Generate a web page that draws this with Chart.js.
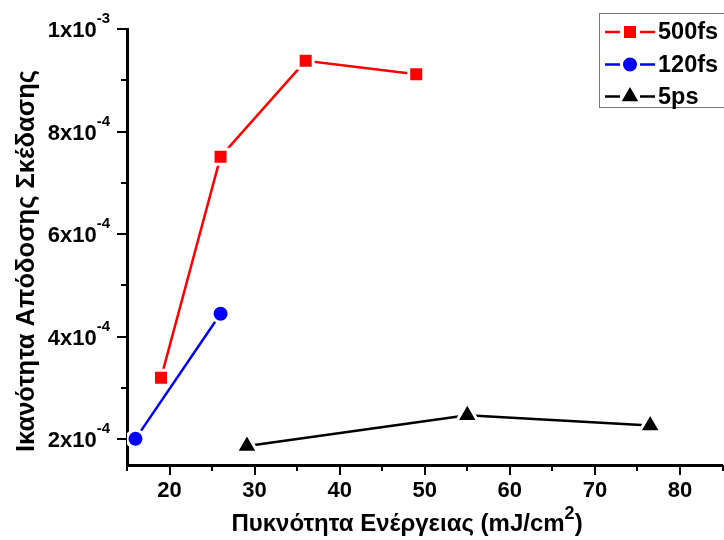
<!DOCTYPE html>
<html>
<head>
<meta charset="utf-8">
<script src="https://cdn.jsdelivr.net/npm/chart.js@4"></script>
<style>
  html, body { margin: 0; padding: 0; background: #fff; }
  #wrap { width: 724px; height: 540px; }
</style>
</head>
<body>
<div id="wrap"><canvas id="chart" width="724" height="540"></canvas></div>
<script>
// energy density (mJ/cm^2) vs scattering efficiency for three pulse widths
const fs500X = [19, 26, 36, 49];
const fs500Y = [3.2e-4, 7.51e-4, 9.38e-4, 9.12e-4];
const fs120X = [16, 26];
const fs120Y = [2.01e-4, 4.45e-4];
const ps5X = [29.1, 55, 76.5];
const ps5Y = [1.87e-4, 2.47e-4, 2.27e-4];

const seriesNames = ['500fs', '120fs', '5ps'];

// axis ticks (labels drawn with superscript exponents)
const xMajorTicks = [20, 30, 40, 50, 60, 70, 80];
const xMinorTicks = [15, 25, 35, 45, 55, 65, 75, 85];
const yMajorTicks = [2e-4, 4e-4, 6e-4, 8e-4, 1e-3];
const yMinorTicks = [3e-4, 5e-4, 7e-4, 9e-4];
const yTickBase = ['2x10', '4x10', '6x10', '8x10', '1x10'];
const yTickExp = ['-4', '-4', '-4', '-4', '-3'];

const FONT = '"Liberation Sans", Arial, sans-serif';

function pts(xs, ys) {
  return xs.map((x, i) => ({ x, y: ys[i] }));
}

// ticks, tick labels, axis titles and the boxed legend
const axisDecor = {
  id: 'axisDecor',
  afterDraw(chart) {
    const ctx = chart.ctx;
    const xs = chart.scales.x;
    const ys = chart.scales.y;
    const area = chart.chartArea;
    ctx.save();
    ctx.strokeStyle = '#000';
    ctx.fillStyle = '#000';
    ctx.lineWidth = 2;

    // x ticks
    xMajorTicks.forEach(v => {
      const px = Math.round(xs.getPixelForValue(v));
      ctx.beginPath(); ctx.moveTo(px, area.bottom); ctx.lineTo(px, area.bottom + 10); ctx.stroke();
    });
    xMinorTicks.forEach(v => {
      const px = Math.round(xs.getPixelForValue(v));
      ctx.beginPath(); ctx.moveTo(px, area.bottom); ctx.lineTo(px, area.bottom + 6); ctx.stroke();
    });
    // y ticks
    yMajorTicks.forEach(v => {
      const py = Math.round(ys.getPixelForValue(v));
      ctx.beginPath(); ctx.moveTo(area.left, py); ctx.lineTo(area.left - 10, py); ctx.stroke();
    });
    yMinorTicks.forEach(v => {
      const py = Math.round(ys.getPixelForValue(v));
      ctx.beginPath(); ctx.moveTo(area.left, py); ctx.lineTo(area.left - 6, py); ctx.stroke();
    });

    // x tick labels
    ctx.font = 'bold 22px ' + FONT;
    ctx.textAlign = 'center';
    ctx.textBaseline = 'middle';
    xMajorTicks.forEach(v => {
      ctx.fillText(String(v), xs.getPixelForValue(v), 491);
    });

    // y tick labels: mantissa x 10 with raised exponent
    const labelRight = area.left - 17;
    yMajorTicks.forEach((v, i) => {
      const py = ys.getPixelForValue(v);
      ctx.font = 'bold 15px ' + FONT;
      ctx.textAlign = 'right';
      ctx.fillText(yTickExp[i], labelRight, py - 10);
      const ew = ctx.measureText(yTickExp[i]).width;
      ctx.font = 'bold 22px ' + FONT;
      ctx.fillText(yTickBase[i], labelRight - ew, py + 2);
    });

    // y title
    ctx.save();
    ctx.translate(27, 261);
    ctx.rotate(-Math.PI / 2);
    ctx.font = 'bold 25.5px ' + FONT;
    ctx.textAlign = 'center';
    ctx.textBaseline = 'middle';
    ctx.fillText('Ικανότητα Απόδοσης Σκέδασης', 0, 0);
    ctx.restore();

    // x title with cm² superscript
    const partA = 'Πυκνότητα Ενέργειας ';
    const partB = '(mJ/cm';
    const partC = '2';
    const partD = ')';
    ctx.textAlign = 'left';
    ctx.textBaseline = 'alphabetic';
    ctx.font = 'bold 24px ' + FONT;
    const wA = ctx.measureText(partA).width;
    const wB = ctx.measureText(partB).width;
    const wD = ctx.measureText(partD).width;
    ctx.font = 'bold 18px ' + FONT;
    const wC = ctx.measureText(partC).width;
    let tx = 407 - (wA + wB + wC + wD) / 2;
    const base = 531;
    ctx.font = 'bold 24px ' + FONT;
    ctx.fillText(partA, tx, base); tx += wA;
    ctx.fillText(partB, tx, base); tx += wB;
    ctx.font = 'bold 18px ' + FONT;
    ctx.fillText(partC, tx, base - 12); tx += wC;
    ctx.font = 'bold 24px ' + FONT;
    ctx.fillText(partD, tx, base);

    // legend box
    ctx.lineWidth = 1;
    ctx.strokeStyle = '#777';
    ctx.strokeRect(599.5, 13.5, 140, 94);
    const rows = [32, 64.5, 96.5];
    chart.data.datasets.forEach((ds, i) => {
      const ly = rows[i];
      ctx.strokeStyle = ds.borderColor;
      ctx.lineWidth = ds.borderWidth;
      ctx.beginPath();
      ctx.moveTo(605, ly); ctx.lineTo(620, ly);
      ctx.moveTo(640, ly); ctx.lineTo(655, ly);
      ctx.stroke();
      ctx.fillStyle = ds.pointBackgroundColor;
      ctx.strokeStyle = '#fff';
      ctx.lineWidth = ds.pointBorderWidth;
      Chart.helpers.drawPoint(ctx, {
        pointStyle: ds.pointStyle, radius: ds.pointRadius, rotation: 0,
        borderWidth: ds.pointBorderWidth
      }, 630, ly);
      ctx.fillStyle = '#000';
      ctx.font = 'bold 23.5px ' + FONT;
      ctx.textAlign = 'left';
      ctx.textBaseline = 'middle';
      ctx.fillText(ds.label, 658, ly + 1);
    });
    ctx.restore();
  }
};

const mkSet = (label, data, color, style, radius) => ({
  label,
  data,
  borderColor: color,
  backgroundColor: color,
  borderWidth: 2.5,
  pointStyle: style,
  pointRadius: radius,
  pointHoverRadius: radius,
  pointBackgroundColor: color,
  pointBorderColor: '#fff',
  pointBorderWidth: 3,
  tension: 0,
  showLine: true
});

new Chart(document.getElementById('chart'), {
  type: 'scatter',
  data: {
    datasets: [
      mkSet(seriesNames[0], pts(fs500X, fs500Y), '#ff0000', 'rect', 10.6),
      mkSet(seriesNames[1], pts(fs120X, fs120Y), '#0000ff', 'circle', 8.5),
      mkSet(seriesNames[2], pts(ps5X, ps5Y), '#000000', 'triangle', 12.5)
    ]
  },
  options: {
    responsive: false,
    animation: false,
    layout: { autoPadding: false, padding: { top: 29, right: 1.5, left: 0, bottom: 0 } },
    plugins: { legend: { display: false }, tooltip: { enabled: false } },
    scales: {
      x: {
        type: 'linear',
        min: 15,
        max: 85,
        grid: { display: false },
        border: { display: true, color: '#000', width: 3 },
        ticks: { display: false },
        afterFit(scale) { scale.height = 75; }
      },
      y: {
        type: 'linear',
        min: 1.5e-4,
        max: 1e-3,
        grid: { display: false },
        border: { display: true, color: '#000', width: 3 },
        ticks: { display: false },
        afterFit(scale) { scale.width = 127; }
      }
    }
  },
  plugins: [axisDecor]
});
</script>
</body>
</html>
